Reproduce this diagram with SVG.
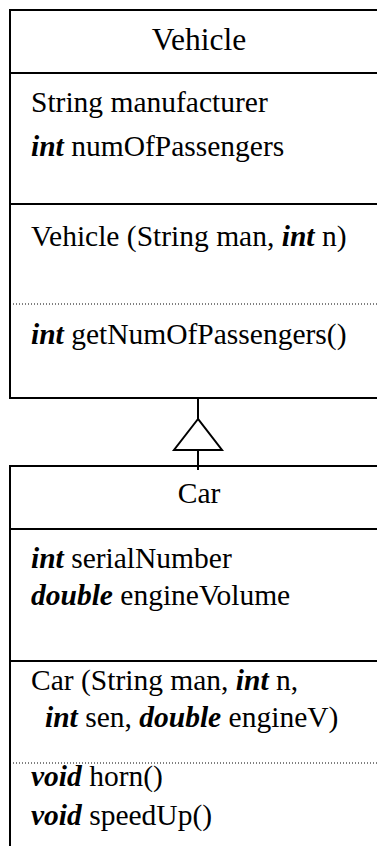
<svg xmlns="http://www.w3.org/2000/svg" width="377" height="846" viewBox="0 0 377 846">
<style>
text{font-family:"Liberation Serif","Times New Roman",serif;fill:#000;}
.t{font-size:31.5px;}
.b{font-size:29.5px;}
.k{font-weight:bold;font-style:italic;}
.box{fill:#fff;stroke:#000;stroke-width:2;}
.sep{stroke:#000;stroke-width:2;}
.dot{stroke:#000;stroke-width:1;stroke-dasharray:1 2;}
.edge{stroke:#000;stroke-width:2;fill:none;}
.tri{stroke:#000;stroke-width:2;fill:#fff;}
</style>
<rect width="377" height="846" fill="#fff"/>
<g id="vehicle">
<rect class="box" x="10" y="10" width="400" height="388"/>
<line class="sep" x1="10" y1="73" x2="410" y2="73"/>
<line class="sep" x1="10" y1="204" x2="410" y2="204"/>
<line class="dot" x1="10" y1="304" x2="410" y2="304"/>
<text class="t" x="199" y="50" text-anchor="middle">Vehicle</text>
<text class="b" x="31" y="112">String manufacturer</text>
<text class="b" x="31" y="156"><tspan class="k">int</tspan> numOfPassengers</text>
<text class="b" x="31" y="246">Vehicle (String man, <tspan class="k">int</tspan> n)</text>
<text class="b" x="31" y="344"><tspan class="k">int</tspan> getNumOfPassengers()</text>
</g>
<g id="car">
<rect class="box" x="10" y="466" width="400" height="400"/>
<line class="sep" x1="10" y1="529" x2="410" y2="529"/>
<line class="sep" x1="10" y1="661" x2="410" y2="661"/>
<line class="dot" x1="10" y1="763" x2="410" y2="763"/>
<text class="b" x="199" y="503" text-anchor="middle">Car</text>
<text class="b" x="31" y="568"><tspan class="k">int</tspan> serialNumber</text>
<text class="b" x="31" y="605"><tspan class="k">double</tspan> engineVolume</text>
<text class="b" x="31" y="690">Car (String man, <tspan class="k">int</tspan> n,</text>
<text class="b" x="45" y="727"><tspan class="k">int</tspan> sen, <tspan class="k">double</tspan> engineV)</text>
<text class="b" x="31" y="786"><tspan class="k">void</tspan> horn()</text>
<text class="b" x="31" y="825"><tspan class="k">void</tspan> speedUp()</text>
</g>
<g id="connectors">
<line class="edge" x1="198" y1="398" x2="198" y2="419"/>
<polygon class="tri" points="198,419 174,450 222,450"/>
<line class="edge" x1="198" y1="450" x2="198" y2="470"/>
</g>
</svg>
